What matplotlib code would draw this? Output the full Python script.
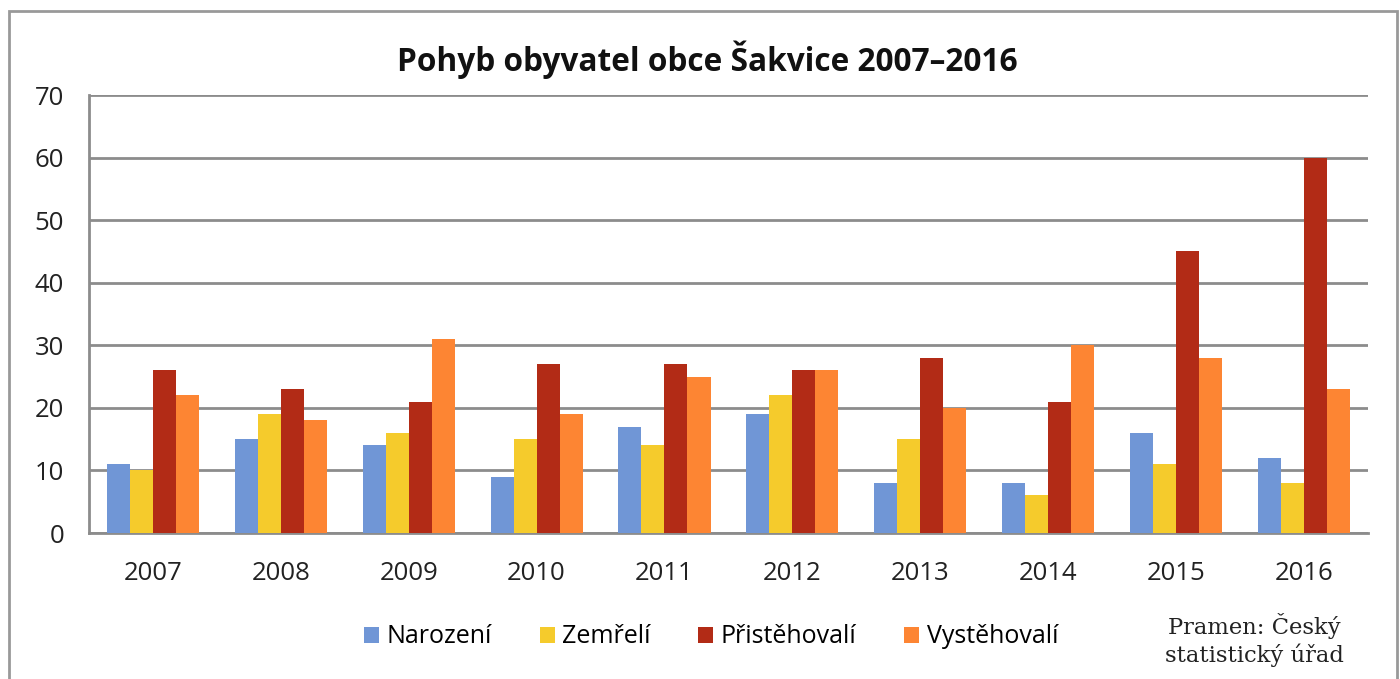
import matplotlib.pyplot as plt
import numpy as np
from matplotlib.patches import Rectangle

roky = ["2007", "2008", "2009", "2010", "2011", "2012", "2013", "2014", "2015", "2016"]
narozeni = [11, 15, 14, 9, 17, 19, 8, 8, 16, 12]
zemreli = [10, 19, 16, 15, 14, 22, 15, 6, 11, 8]
pristehovali = [26, 23, 21, 27, 27, 26, 28, 21, 45, 60]
vystehovali = [22, 18, 31, 19, 25, 26, 20, 30, 28, 23]

serie = [narozeni, zemreli, pristehovali, vystehovali]
nazvy = ["Narození", "Zemřelí", "Přistěhovalí", "Vystěhovalí"]
barvy = ["#7096d6", "#f5cb2c", "#b22b16", "#fd8533"]

plt.rcParams['font.family'] = ['Open Sans', 'DejaVu Sans']

fig = plt.figure(figsize=(14, 6.79), dpi=100)
ax = fig.add_axes([0.0636, 0.215, 0.9134, 0.645])

x = np.arange(len(roky))
sirka = 0.18
for i, (data, nazev, barva) in enumerate(zip(serie, nazvy, barvy)):
    ax.bar(x + (i - 1.5) * sirka, data, sirka, color=barva, label=nazev, zorder=3)

ax.set_xlim(-0.5, len(roky) - 0.5)
ax.set_ylim(0, 70)
ax.set_yticks(range(0, 71, 10))
ax.set_xticks(x)
ax.set_xticklabels(roky)
ax.tick_params(axis='both', length=0, labelsize=18.5, colors='#222222')
ax.tick_params(axis='x', pad=20)
ax.tick_params(axis='y', pad=18)
ax.grid(axis='y', color='#8c8c8c', linewidth=2, zorder=0)
for s in ['top', 'right']:
    ax.spines[s].set_visible(False)
for s in ['left', 'bottom']:
    ax.spines[s].set_color('#8c8c8c')
    ax.spines[s].set_linewidth(2)

fig.text(0.505, 0.912, "Pohyb obyvatel obce Šakvice 2007–2016", ha='center', va='center',
         fontsize=22.8, fontweight='bold', color='#111111')

fig.legend(loc='center', bbox_to_anchor=(0.508, 0.062), ncol=4, frameon=False,
           fontsize=18, handlelength=0.6, handleheight=0.6, handletextpad=0.3,
           columnspacing=1.9)

fig.text(0.896, 0.058, "Pramen: Český\nstatistický úřad", ha='center', va='center',
         fontsize=16.3, family=['DejaVu Serif'], linespacing=1.25, color='#222222')

fig.patches.append(Rectangle((9 / 1400, -0.1), (1397 - 9) / 1400, 1.1 - 11 / 679,
                             transform=fig.transFigure, fill=False,
                             edgecolor='#999999', linewidth=2))

fig.savefig("out.png", dpi=100)
